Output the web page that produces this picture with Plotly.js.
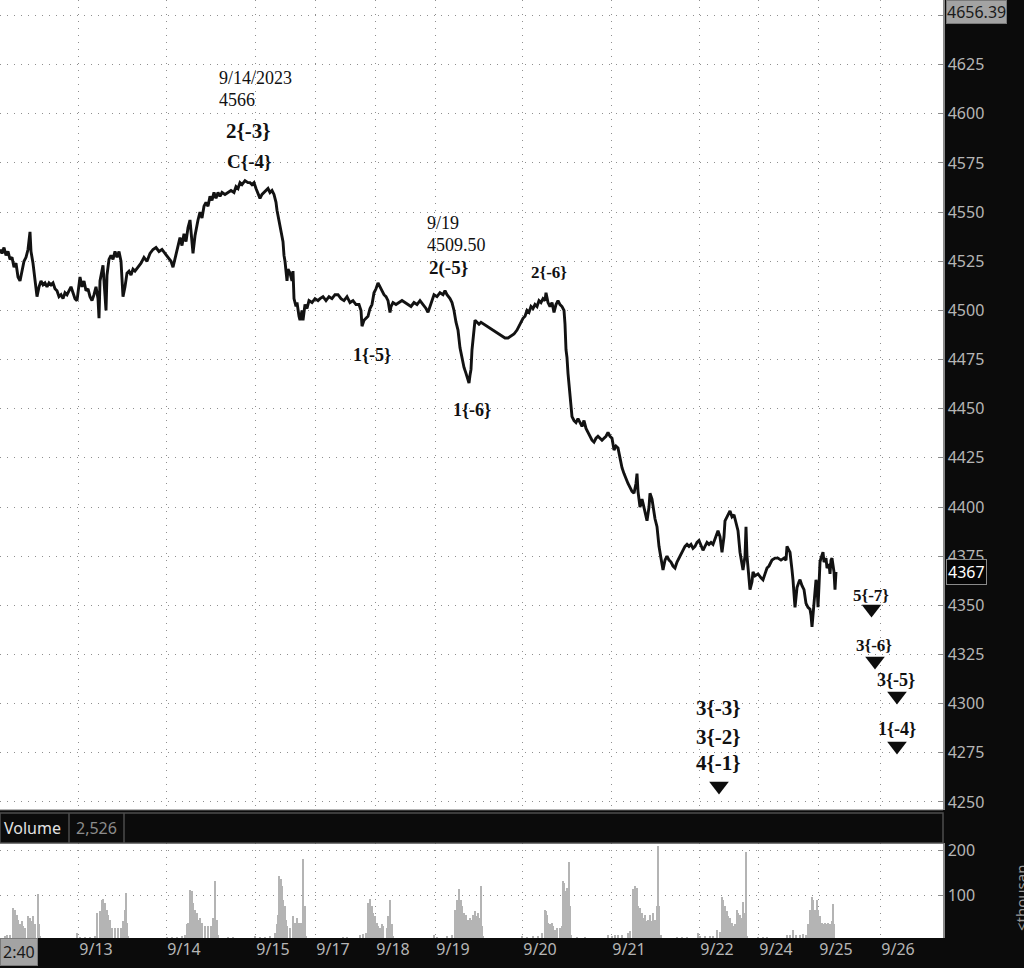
<!DOCTYPE html>
<html>
<head>
<meta charset="utf-8">
<script src="https://cdn.plot.ly/plotly-3.0.1.min.js"></script>
<style>
html,body{margin:0;padding:0;background:#0b0b0b;}
#chart{width:1024px;height:968px;}
</style>
</head>
<body>
<div id="chart"></div>
<script>
// ---- price path: [bar index, price] ----
const pricePath = [
[0,4531],[2,4529],[4,4532],[6,4528],[8,4530],[10,4526],[12,4527],[14,4522],[16,4524],[18,4517],[20,4515],[22,4520],[24,4525],[26,4527],[28,4531],[30,4540],[31,4530],[33,4524],[35,4514],[37,4507],[39,4512],[41,4515],[43,4513],[45,4514],[47,4512],[49,4514],[51,4513],[53,4514],[55,4511],[57,4510],[59,4507],[61,4508],[63,4506],[65,4509],[67,4508],[69,4510],[71,4512],[73,4509],[75,4506],[77,4505],[79,4514],[80,4517],[82,4512],[84,4515],[86,4510],[88,4511],[90,4507],[92,4505],[94,4508],[96,4512],[98,4506],[99,4496],[100,4515],[102,4520],[103,4523],[104,4515],[106,4500],[107,4518],[109,4526],[111,4528],[113,4526],[115,4530],[117,4527],[119,4530],[121,4525],[123,4507],[125,4512],[127,4519],[129,4520],[131,4518],[133,4521],[135,4520],[138,4522],[141,4524],[144,4527],[147,4525],[150,4529],[153,4531],[156,4532],[159,4530],[162,4531],[165,4529],[168,4527],[171,4525],[173,4522],[175,4526],[177,4530],[180,4537],[182,4533],[184,4539],[186,4535],[188,4542],[190,4546],[192,4534],[193,4529],[195,4538],[196,4541],[198,4546],[200,4550],[202,4547],[204,4553],[206,4555],[208,4553],[210,4558],[212,4556],[214,4560],[216,4557],[218,4560],[220,4558],[222,4560],[225,4559],[228,4560],[231,4561],[234,4560],[236,4563],[238,4562],[240,4565],[242,4564],[245,4566],[248,4565],[250,4565],[252,4564],[254,4565],[256,4562],[258,4559],[260,4557],[262,4559],[264,4560],[266,4561],[268,4562],[270,4560],[272,4561],[274,4559],[276,4555],[277,4551],[279,4546],[281,4540],[283,4535],[284,4528],[285,4525],[287,4515],[288,4521],[290,4519],[292,4515],[293,4520],[294,4506],[296,4502],[297,4504],[299,4497],[300,4495],[302,4500],[303,4495],[305,4503],[307,4501],[309,4505],[312,4504],[315,4506],[318,4505],[320,4506],[323,4507],[326,4505],[329,4507],[332,4506],[335,4508],[338,4508],[341,4506],[344,4505],[347,4507],[350,4504],[353,4505],[356,4503],[359,4503],[361,4500],[362,4492],[364,4495],[366,4496],[368,4497],[370,4501],[372,4503],[374,4509],[376,4511],[378,4514],[380,4512],[382,4510],[384,4508],[386,4507],[388,4505],[390,4499],[391,4502],[393,4504],[396,4503],[399,4504],[402,4505],[405,4504],[408,4503],[411,4502],[414,4504],[417,4503],[420,4505],[423,4503],[426,4501],[428,4499],[430,4502],[432,4506],[434,4508],[437,4507],[440,4509],[443,4508],[445,4510],[447,4508],[450,4506],[452,4504],[454,4500],[456,4494],[458,4490],[460,4481],[462,4475],[464,4471],[466,4468],[468,4465],[469,4463],[470,4467],[471,4470],[472,4480],[473,4486],[474,4490],[475,4495],[477,4494],[479,4493],[481,4494],[484,4493],[487,4492],[490,4491],[493,4490],[496,4489],[499,4488],[502,4487],[505,4486],[508,4486],[511,4487],[514,4488],[517,4490],[519,4492],[521,4494],[523,4496],[525,4497],[527,4500],[529,4499],[531,4502],[533,4501],[535,4503],[537,4502],[539,4505],[541,4504],[543,4506],[545,4505],[546,4509],[548,4504],[550,4502],[552,4504],[554,4499],[556,4503],[558,4505],[560,4503],[562,4502],[564,4500],[565,4493],[566,4480],[567,4476],[568,4468],[569,4463],[570,4456],[571,4450],[572,4446],[574,4444],[576,4443],[578,4445],[580,4443],[582,4441],[584,4444],[586,4440],[588,4438],[590,4436],[592,4434],[594,4433],[596,4435],[598,4436],[600,4435],[602,4434],[604,4435],[606,4436],[608,4438],[610,4436],[612,4435],[613,4431],[614,4429],[616,4431],[618,4430],[620,4425],[622,4420],[624,4417],[626,4414],[628,4412],[630,4410],[632,4408],[634,4407],[636,4412],[637,4417],[638,4408],[640,4400],[642,4404],[643,4402],[645,4397],[647,4393],[649,4400],[650,4407],[652,4404],[653,4400],[655,4394],[657,4390],[659,4380],[661,4374],[663,4368],[665,4373],[667,4375],[669,4373],[671,4372],[673,4370],[675,4369],[677,4372],[679,4374],[681,4376],[683,4378],[685,4380],[687,4381],[689,4380],[691,4381],[693,4379],[695,4380],[697,4382],[699,4383],[701,4380],[703,4378],[705,4380],[707,4382],[709,4381],[711,4382],[713,4381],[715,4384],[717,4387],[718,4388],[720,4385],[722,4377],[724,4385],[725,4393],[727,4395],[729,4397],[730,4398],[732,4395],[734,4396],[736,4392],[738,4388],[740,4377],[742,4370],[743,4368],[745,4375],[746,4390],[747,4375],[748,4368],[750,4358],[752,4362],[753,4367],[755,4365],[758,4366],[761,4364],[763,4363],[765,4366],[767,4369],[769,4370],[772,4373],[775,4374],[778,4374],[781,4373],[784,4374],[786,4373],[787,4380],[789,4378],[790,4377],[792,4368],[793,4363],[795,4349],[796,4355],[797,4359],[799,4362],[800,4363],[802,4360],[804,4358],[806,4351],[808,4349],[810,4348],[811,4345],[812,4339],[813,4345],[814,4349],[815,4355],[816,4363],[817,4360],[818,4349],[819,4360],[820,4372],[821,4374],[823,4377],[824,4372],[826,4374],[827,4369],[829,4371],[830,4366],[831,4373],[832,4374],[833,4369],[834,4367],[835,4358],[836,4367]
];

// ---- volume (thousands): [bar index, volume] ----
const volumePath = [
[5,10],[7,12],[10,12],[13,73],[15,69],[17,58],[18,47],[20,36],[22,43],[23,32],[25,28],[28,54],[30,50],[32,43],[33,54],[35,36],[38,104],[39,36],[40,10],
[77,17],[80,9],[85,9],[90,9],[95,10],[97,61],[100,65],[102,91],[103,93],[105,84],[107,69],[108,58],[110,47],[112,28],[115,28],[118,28],[121,28],[123,43],[125,69],[126,106],[127,39],[128,10],
[167,9],[172,9],[177,9],[182,10],[185,13],[187,36],[188,39],[190,113],[192,110],[193,84],[195,69],[197,61],[198,47],[200,50],[202,39],[205,32],[208,32],[211,32],[213,50],[215,133],[217,47],[218,13],[228,8],[233,8],
[255,10],[260,9],[265,9],[270,10],[275,17],[277,36],[278,58],[279,144],[281,136],[282,121],[283,91],[285,76],[286,47],[287,32],[290,28],[293,54],[295,39],[297,50],[298,39],[300,39],[302,39],[303,181],[305,76],[306,10],
[343,9],[347,9],[360,12],[363,15],[366,17],[368,84],[370,93],[372,76],[373,61],[375,54],[377,39],[378,32],[380,28],[382,36],[383,32],[387,28],[388,54],[390,91],[392,36],[393,10],
[434,13],[437,9],[447,10],[452,13],[455,69],[457,91],[459,115],[461,91],[462,76],[464,61],[466,58],[468,47],[470,50],[472,47],[473,58],[475,65],[477,54],[478,61],[480,50],[481,122],[482,32],[483,10],
[522,10],[527,9],[533,10],[538,10],[542,17],[545,69],[546,65],[547,58],[548,39],[550,36],[552,39],[553,32],[555,24],[557,28],[560,28],[562,32],[563,132],[564,128],[565,110],[567,117],[568,106],[569,174],[570,76],[571,13],[577,8],[585,8],
[608,13],[612,10],[615,13],[618,13],[622,13],[628,17],[630,22],[633,115],[635,121],[637,118],[638,76],[640,73],[642,61],[643,50],[645,58],[647,43],[648,47],[650,58],[652,43],[653,61],[655,47],[657,76],[658,211],[659,76],[661,13],[677,8],[682,8],[687,8],
[698,18],[700,11],[705,11],[710,11],[713,11],[717,24],[720,20],[722,98],[723,91],[725,76],[727,65],[728,54],[730,50],[732,39],[733,32],[735,36],[737,69],[738,61],[740,58],[742,50],[743,87],[745,61],[746,196],[747,10],
[758,9],[763,9],[767,9],[787,13],[790,13],[793,24],[796,13],[800,13],[803,15],[806,13],[808,36],[810,69],[812,98],[813,91],[815,69],[817,91],[818,69],[820,54],[822,39],[823,36],[825,39],[827,36],[828,39],[830,36],[832,43],[833,81],[834,36]
];

// ---- axes ----
const dateTickPos  = [78,166,255,315,375,435,522,611,699,758,818,880];
const dateTickText = ['9/13','9/14','9/15','9/17','9/18','9/19','9/20','9/21','9/22','9/24','9/25','9/26'];
const priceTicks = [4250,4275,4300,4325,4350,4375,4400,4425,4450,4475,4500,4525,4550,4575,4600,4625,4650];
const volumeTicks = [0,100,200];

// ---- notes and wave labels (anchored at bar index / price) ----
const noteText = ['9/14/2023','4566','9/19','4509.50'];
const noteX    = [217,217,425,425];
const noteY    = [4618.2,4607.0,4544.4,4533.3];

const waveText = ['2{-3}','C{-4}','2(-5}','2{-6}','1{-5}','1{-6}','3{-3}','3{-2}','4{-1}','5{-7}','3{-6}','3{-5}','1{-4}'];
const waveX    = [248,249,448,549,372,472,718,718,718,871,874,896,897];
const waveY    = [4591.2,4576.0,4521.6,4519.5,4477.3,4449.3,4297.8,4283.0,4269.8,4355.2,4329.8,4312.0,4287.1];

// ---- down-arrow targets ----
const arrowX = [719,871.5,875,897,897];
const arrowY = [4258.1,4348.1,4321.7,4303.9,4278.4];

// ---- header values ----
const lastPrice = 4367;
const topPrice = '4656.39';
const lastVolume = '2,526';
const timeLabel = '2:40';

// ---------------------------------------------------
const waveSizes = {'2{-3}':21,'C{-4}':19,'2(-5}':19,'2{-6}':17,'1{-5}':18,'1{-6}':18,'3{-3}':21,'3{-2}':21,'4{-1}':21,'5{-7}':17,'3{-6}':17,'3{-5}':18,'1{-4}':18};

const W = 943, H = 938; // plot area in px
const py = y => (H - y) / H;
const px = x => x / W;

const traces = [
  {
    type:'bar', x: volumePath.map(d=>d[0]), y: volumePath.map(d=>d[1]),
    yaxis:'y2', xaxis:'x', width:1.8,
    marker:{color:'#b4b4b4', line:{width:0}}, hoverinfo:'skip'
  },
  {
    type:'scatter', mode:'lines', x: pricePath.map(d=>d[0]), y: pricePath.map(d=>d[1]),
    xaxis:'x', yaxis:'y', line:{color:'#121212', width:2.9}, hoverinfo:'skip'
  },
  {
    type:'scatter', mode:'markers', x: arrowX, y: arrowY, xaxis:'x', yaxis:'y',
    marker:{symbol:'triangle-down', size:17, color:'#0d0d0d', line:{width:0}}, hoverinfo:'skip'
  }
];

const annotations = [];
noteText.forEach((t,i)=>annotations.push({
  text:t, x:noteX[i], y:noteY[i], xref:'x', yref:'y', xanchor:'left', yanchor:'middle',
  showarrow:false, font:{family:'Liberation Serif', size:18, color:'#111'}
}));
waveText.forEach((t,i)=>annotations.push({
  text:'<b>'+t+'</b>', x:waveX[i], y:waveY[i], xref:'x', yref:'y', xanchor:'center', yanchor:'middle',
  showarrow:false, font:{family:'Liberation Serif', size:waveSizes[t], color:'#111'}
}));
// header / labels in black chrome
annotations.push({text:'Volume', xref:'paper', yref:'paper', x:px(2), y:py(828), xanchor:'left', yanchor:'middle',
  showarrow:false, font:{family:'Noto Sans', size:16, color:'#e2e2e2'}});
annotations.push({text:lastVolume, xref:'paper', yref:'paper', x:px(74), y:py(828), xanchor:'left', yanchor:'middle',
  showarrow:false, font:{family:'Noto Sans', size:16, color:'#8c8c8c'}});
annotations.push({text:topPrice, xref:'paper', yref:'paper', x:px(946), y:1, xanchor:'left', yanchor:'top',
  showarrow:false, bgcolor:'#a3a3a3', bordercolor:'#7a7a7a', borderwidth:1, borderpad:0,
  font:{family:'Noto Sans', size:16, color:'#1a1a1a'}});
annotations.push({text:String(lastPrice), xref:'paper', yref:'y', x:px(946), y:lastPrice, xanchor:'left', yanchor:'middle',
  showarrow:false, bgcolor:'#050505', bordercolor:'#8a8a8a', borderwidth:1, borderpad:1,
  font:{family:'Noto Sans', size:16, color:'#ffffff'}});
annotations.push({text:timeLabel, xref:'paper', yref:'paper', x:0, y:py(952), xanchor:'left', yanchor:'middle',
  showarrow:false, bgcolor:'#a3a3a3', bordercolor:'#7a7a7a', borderwidth:1, borderpad:2,
  font:{family:'Noto Sans', size:16, color:'#1a1a1a'}});
annotations.push({text:'<thousan', xref:'paper', yref:'paper', x:px(1021), y:py(898), xanchor:'center', yanchor:'middle',
  textangle:-90, showarrow:false, font:{family:'Noto Sans', size:15, color:'#9a9a9a'}});

const shapes = [
  {type:'rect', xref:'paper', yref:'paper', x0:0, x1:1, y0:py(843), y1:py(813),
   fillcolor:'#0b0b0b', line:{color:'#4d4d4d', width:1.5}, layer:'above'},
  {type:'line', xref:'paper', yref:'paper', x0:px(69), x1:px(69), y0:py(843), y1:py(813), line:{color:'#4d4d4d', width:1.5}},
  {type:'line', xref:'paper', yref:'paper', x0:px(124), x1:px(124), y0:py(843), y1:py(813), line:{color:'#4d4d4d', width:1.5}},
  {type:'line', xref:'paper', yref:'paper', x0:0, x1:1, y0:py(810), y1:py(810), line:{color:'#6a6a6a', width:1}}
];

const gridDash = '1px,6px';
const axisFont = {family:'Noto Sans', size:16, color:'#b6b6b6'};

const layout = {
  width:1024, height:968,
  paper_bgcolor:'#0b0b0b', plot_bgcolor:'#ffffff',
  margin:{l:0, r:81, t:0, b:30, pad:0},
  showlegend:false, bargap:0,
  xaxis:{
    range:[0,943], anchor:'y2', tickmode:'array', tickvals:dateTickPos, ticktext:dateTickText,
    showgrid:true, gridcolor:'#8f8f8f', gridwidth:1, griddash:gridDash, zeroline:false,
    showline:false, ticks:'', tickfont:axisFont, ticklabelshift:18, fixedrange:true
  },
  yaxis:{
    domain:[py(810),1], side:'right', anchor:'x', range:[4245.9,4657.9],
    tickmode:'array', tickvals:priceTicks, showgrid:true, gridcolor:'#8f8f8f', gridwidth:1, griddash:gridDash,
    zeroline:false, showline:true, linecolor:'#8a8a8a', linewidth:1.5,
    ticks:'inside', ticklen:5, tickcolor:'#8a8a8a', tickfont:axisFont, ticklabelstandoff:0
  },
  yaxis2:{
    domain:[0,py(843)], side:'right', anchor:'x', range:[6,217],
    tickmode:'array', tickvals:volumeTicks, showgrid:true, gridcolor:'#8f8f8f', gridwidth:1, griddash:gridDash,
    zeroline:false, showline:true, linecolor:'#8a8a8a', linewidth:1.5,
    ticks:'inside', ticklen:5, tickcolor:'#8a8a8a', tickfont:axisFont, ticklabelstandoff:0
  },
  annotations, shapes
};

Plotly.newPlot('chart', traces, layout, {staticPlot:true, displayModeBar:false});
</script>
</body>
</html>
